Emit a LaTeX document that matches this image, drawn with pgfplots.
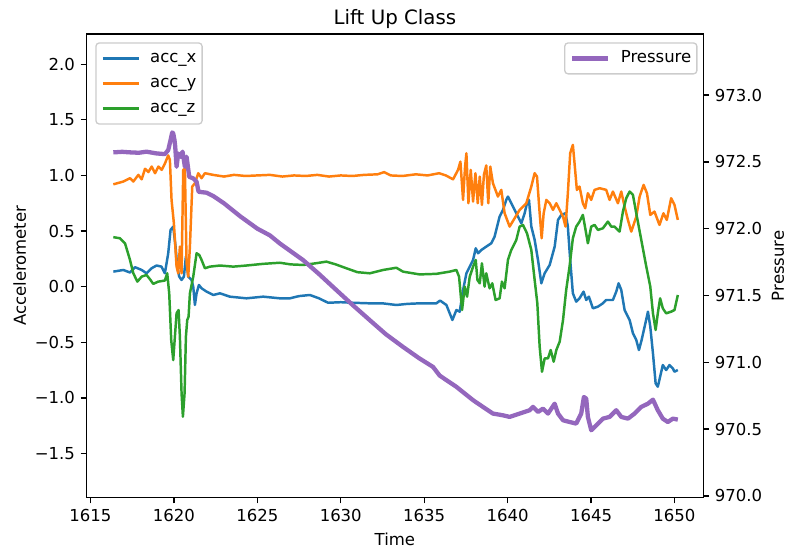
\documentclass[border=0pt]{standalone}
\usepackage{fontspec}
\setmainfont{DejaVu Sans}
\usepackage{pgfplots}
\pgfplotsset{compat=1.18}
\definecolor{C0}{HTML}{1F77B4}
\definecolor{C1}{HTML}{FF7F0E}
\definecolor{C2}{HTML}{2CA02C}
\definecolor{C4}{HTML}{9467BD}
\definecolor{lgray}{HTML}{CCCCCC}
\pgfplotsset{
  common/.style={
    scale only axis, width=373.9pt, height=281.0pt,
    xmin=1614.76, xmax=1651.73,
    tick align=outside, major tick length=3.5pt,
    every tick/.style={black, line width=0.8pt},
    axis line style={line width=0.8pt},
    tick label style={font=\fontsize{10}{12}\selectfont},
    legend image code/.code={\draw[##1] (0pt,0pt) -- (21.8pt,0pt);},
    legend style={font=\fontsize{10}{12}\selectfont, draw=lgray, line width=0.8pt,
      fill=white, fill opacity=0.8, text opacity=1, rounded corners=2pt,
      inner xsep=3.4pt, inner ysep=3.7pt, row sep=3.9pt, column sep=6.2pt,
      nodes={inner xsep=0pt, inner ysep=1pt, text height=7.3pt, text depth=2pt}},
    legend cell align=left,
  }
}
\begin{document}
\begin{tikzpicture}
\begin{axis}[common,
  ymin=-1.897, ymax=2.272,
  xtick={1615,1620,1625,1630,1635,1640,1645,1650},
  xticklabels={1615,1620,1625,1630,1635,1640,1645,1650},
  ytick={-1.5,-1,-0.5,0,0.5,1,1.5,2},
  yticklabels={−1.5,−1.0,−0.5,0.0,0.5,1.0,1.5,2.0},
  xtick pos=bottom, ytick pos=left,
  xlabel={Time}, ylabel={Accelerometer},
  xlabel style={at={(axis description cs:0.5,-0.1043)}, anchor=base, font=\fontsize{10}{12}\selectfont},
  ylabel style={at={(axis description cs:-0.0982,0.5)}, anchor=base, font=\fontsize{10}{12}\selectfont},
  title={Lift Up Class},
  every axis title shift=0pt,
  title style={at={(axis description cs:0.5,1.020)}, anchor=base, font=\fontsize{12}{14}\selectfont},
  legend style={at={(0.0143,0.982)}, anchor=north west},
]
\addplot[C0, line width=1.5pt, line join=round] coordinates {
(1616.37,0.135) (1616.97,0.15) (1617.37,0.127) (1617.67,0.175) (1618.07,0.15) (1618.36,0.12)
(1618.66,0.165) (1618.96,0.19) (1619.26,0.18) (1619.46,0.12) (1619.66,0.30) (1619.80,0.51)
(1619.96,0.54) (1620.10,0.36) (1620.20,0.18) (1620.32,0.09) (1620.46,0.06) (1620.60,0.09)
(1620.72,0.27) (1620.86,0.09) (1621.06,0.06) (1621.16,0.0) (1621.26,-0.165) (1621.36,-0.06)
(1621.50,0.015) (1621.66,-0.015) (1621.96,-0.045) (1622.36,-0.075) (1622.76,-0.06) (1623.35,-0.09)
(1624.35,-0.105) (1625.35,-0.09) (1626.35,-0.105) (1626.95,-0.105) (1627.5,-0.085) (1628.15,-0.075)
(1628.7,-0.105) (1629.24,-0.145) (1630.0,-0.14) (1630.74,-0.145) (1631.74,-0.15) (1632.5,-0.15)
(1633.33,-0.165) (1634.0,-0.155) (1634.73,-0.15) (1635.73,-0.15) (1635.95,-0.125) (1636.33,-0.165)
(1636.69,-0.30) (1636.93,-0.21) (1637.13,-0.225) (1637.33,-0.03) (1637.53,0.12) (1637.73,0.18)
(1637.93,0.24) (1638.09,0.345) (1638.23,0.30) (1638.43,0.33) (1638.72,0.36) (1639.02,0.39)
(1639.22,0.45) (1639.52,0.63) (1639.72,0.69) (1639.92,0.78) (1640.02,0.81) (1640.22,0.75)
(1640.52,0.66) (1640.82,0.57) (1641.02,0.66) (1641.16,0.75) (1641.28,0.78) (1641.42,0.54)
(1641.62,0.42) (1641.82,0.24) (1642.02,0.03) (1642.22,0.12) (1642.52,0.195) (1642.82,0.36)
(1643.02,0.60) (1643.22,0.645) (1643.47,0.66) (1643.61,0.54) (1643.75,0.24) (1643.91,-0.06)
(1644.11,-0.135) (1644.31,-0.105) (1644.55,-0.045) (1644.71,-0.12) (1644.87,-0.09) (1645.11,-0.195)
(1645.41,-0.18) (1645.71,-0.15) (1645.91,-0.12) (1646.31,-0.12) (1646.51,-0.045) (1646.65,0.03)
(1646.81,-0.03) (1647.01,-0.21) (1647.31,-0.30) (1647.51,-0.42) (1647.71,-0.48) (1647.87,-0.57)
(1648.03,-0.48) (1648.21,-0.36) (1648.41,-0.225) (1648.55,-0.36) (1648.71,-0.60) (1648.87,-0.87)
(1649.00,-0.90) (1649.14,-0.81) (1649.30,-0.705) (1649.50,-0.75) (1649.70,-0.705) (1649.90,-0.735)
(1650.00,-0.765) (1650.20,-0.75)
};
\addlegendentry{acc\_x}
\addplot[C1, line width=1.5pt, line join=round] coordinates {
(1616.37,0.92) (1616.97,0.945) (1617.37,0.975) (1617.57,0.945) (1617.87,1.005) (1618.07,0.965)
(1618.27,1.06) (1618.47,1.03) (1618.67,1.08) (1618.87,1.02) (1619.07,1.08) (1619.27,1.05)
(1619.47,1.11) (1619.66,1.18) (1619.76,1.14) (1619.86,0.78) (1620.00,0.57) (1620.16,0.18)
(1620.26,0.12) (1620.36,0.36) (1620.46,0.12) (1620.56,1.05) (1620.66,1.06) (1620.76,0.21)
(1620.86,0.09) (1620.96,0.36) (1621.10,0.90) (1621.26,0.93) (1621.46,1.02) (1621.66,0.975)
(1621.86,1.02) (1622.35,1.005) (1623.0,0.99) (1623.6,1.005) (1624.3,0.995) (1625.0,1.0)
(1625.75,1.005) (1626.5,0.99) (1627.2,1.0) (1627.9,0.995) (1628.6,1.005) (1629.3,0.99)
(1630.0,1.0) (1630.7,0.995) (1631.4,1.005) (1632.2,1.01) (1632.6,1.03) (1633.0,1.0)
(1633.7,0.995) (1634.5,1.01) (1635.2,1.0) (1635.9,1.02) (1636.3,1.0) (1636.73,0.965)
(1637.03,1.05) (1637.17,1.124) (1637.33,0.78) (1637.45,1.08) (1637.53,1.2) (1637.65,0.75)
(1637.79,1.05) (1637.93,0.765) (1638.07,1.02) (1638.21,0.75) (1638.33,0.99) (1638.46,0.735)
(1638.58,1.005) (1638.72,1.09) (1638.84,0.75) (1638.96,1.08) (1639.12,0.93) (1639.42,0.81)
(1639.62,0.87) (1639.82,0.66) (1640.12,0.54) (1640.36,0.60) (1640.72,0.69) (1641.12,0.75)
(1641.42,0.90) (1641.62,1.02) (1641.76,0.99) (1641.92,0.66) (1642.04,0.435) (1642.16,0.66)
(1642.32,0.78) (1642.52,0.75) (1642.72,0.69) (1642.92,0.75) (1643.12,0.69) (1643.32,0.63)
(1643.47,0.54) (1643.61,0.84) (1643.75,1.20) (1643.91,1.275) (1644.01,1.11) (1644.15,0.87)
(1644.31,0.90) (1644.51,0.75) (1644.65,0.705) (1644.81,0.84) (1645.01,0.78) (1645.21,0.87)
(1645.51,0.885) (1645.91,0.87) (1646.11,0.78) (1646.31,0.855) (1646.61,0.75) (1646.81,0.855)
(1647.01,0.72) (1647.21,0.60) (1647.41,0.495) (1647.71,0.63) (1647.91,0.81) (1648.15,0.915)
(1648.35,0.84) (1648.55,0.645) (1648.80,0.675) (1649.10,0.555) (1649.34,0.66) (1649.54,0.60)
(1649.80,0.795) (1650.00,0.735) (1650.20,0.60)
};
\addlegendentry{acc\_y}
\addplot[C2, line width=1.5pt, line join=round] coordinates {
(1616.37,0.445) (1616.77,0.435) (1617.07,0.39) (1617.37,0.24) (1617.57,0.12) (1617.81,0.045)
(1618.07,0.09) (1618.36,0.105) (1618.60,0.06) (1618.76,0.025) (1619.06,0.045) (1619.46,0.055)
(1619.60,0.12) (1619.72,-0.06) (1619.84,-0.48) (1619.96,-0.66) (1620.06,-0.45) (1620.16,-0.24)
(1620.28,-0.21) (1620.36,-0.45) (1620.46,-0.96) (1620.54,-1.17) (1620.64,-0.96) (1620.72,-0.45)
(1620.80,-0.30) (1620.88,-0.27) (1620.96,-0.06) (1621.16,0.09) (1621.36,0.30) (1621.52,0.285)
(1621.66,0.24) (1621.86,0.165) (1622.16,0.18) (1622.76,0.19) (1623.56,0.18) (1624.35,0.19)
(1625.35,0.205) (1626.35,0.215) (1627.0,0.2) (1627.75,0.195) (1628.5,0.21) (1629.14,0.225)
(1629.7,0.2) (1630.34,0.165) (1631.0,0.13) (1631.74,0.12) (1632.54,0.15) (1633.33,0.17)
(1633.73,0.135) (1634.73,0.11) (1635.73,0.115) (1636.53,0.135) (1636.93,0.15) (1637.09,0.09)
(1637.27,-0.21) (1637.43,0.0) (1637.57,-0.09) (1637.73,0.09) (1637.93,0.18) (1638.09,0.24)
(1638.19,0.06) (1638.33,0.03) (1638.46,0.21) (1638.62,0.0) (1638.72,0.12) (1638.92,-0.015)
(1639.08,0.03) (1639.28,-0.12) (1639.52,-0.105) (1639.66,0.045) (1639.82,-0.015) (1640.02,0.24)
(1640.22,0.33) (1640.52,0.42) (1640.72,0.54) (1640.92,0.555) (1641.16,0.48) (1641.42,0.33)
(1641.62,0.06) (1641.78,-0.15) (1641.92,-0.54) (1642.06,-0.765) (1642.22,-0.645) (1642.42,-0.645)
(1642.58,-0.57) (1642.76,-0.675) (1642.92,-0.57) (1643.12,-0.495) (1643.32,-0.30) (1643.51,-0.03)
(1643.71,0.18) (1643.91,0.435) (1644.11,0.54) (1644.31,0.585) (1644.51,0.645) (1644.67,0.51)
(1644.81,0.39) (1645.01,0.54) (1645.21,0.555) (1645.41,0.51) (1645.71,0.525) (1646.01,0.585)
(1646.21,0.54) (1646.41,0.54) (1646.71,0.495) (1646.91,0.675) (1647.11,0.795) (1647.31,0.855)
(1647.51,0.825) (1647.71,0.66) (1648.01,0.42) (1648.31,0.18) (1648.55,0.0) (1648.71,-0.24)
(1648.87,-0.39) (1649.00,-0.24) (1649.14,-0.105) (1649.30,-0.195) (1649.50,-0.24) (1649.80,-0.225)
(1650.00,-0.21) (1650.20,-0.075)
};
\addlegendentry{acc\_z}
\end{axis}
\begin{axis}[common,
  ymin=969.987, ymax=973.457,
  axis y line*=right, axis x line=none,
  ytick={970,970.5,971,971.5,972,972.5,973},
  yticklabels={970.0,970.5,971.0,971.5,972.0,972.5,973.0},
  ylabel={Pressure},
  ylabel style={at={(axis description cs:1.1305,0.5)}, anchor=base, font=\fontsize{10}{12}\selectfont},
  legend style={at={(0.9906,0.982)}, anchor=north east},
]
\addplot[C4, line width=2.6pt, line join=round] coordinates {
(1616.37,972.571) (1616.9,972.575) (1617.37,972.571) (1617.9,972.568) (1618.36,972.576) (1618.96,972.563)
(1619.46,972.558) (1619.66,972.588) (1619.80,972.663) (1619.90,972.72) (1619.96,972.713) (1620.04,972.66)
(1620.08,972.613) (1620.16,972.463) (1620.26,972.563) (1620.40,972.538) (1620.52,972.576) (1620.66,972.463)
(1620.76,972.538) (1620.92,972.388) (1621.16,972.376) (1621.36,972.351) (1621.48,972.276) (1621.96,972.269)
(1622.36,972.244) (1623.0,972.19) (1624.0,972.09) (1625.0,972.0) (1625.75,971.95) (1626.35,971.889)
(1627.75,971.764) (1628.7,971.66) (1629.74,971.54) (1630.7,971.43) (1631.74,971.315) (1632.7,971.21)
(1633.73,971.115) (1634.7,971.03) (1635.53,970.965) (1635.93,970.90) (1636.93,970.816) (1637.93,970.716)
(1638.52,970.666) (1639.12,970.616) (1639.72,970.603) (1640.12,970.591) (1640.72,970.616) (1641.32,970.641)
(1641.52,970.666) (1641.82,970.628) (1642.12,970.653) (1642.42,970.616) (1642.82,970.69) (1643.02,970.616)
(1643.32,970.566) (1643.71,970.553) (1644.11,970.541) (1644.41,970.616) (1644.57,970.74) (1644.71,970.728)
(1644.81,970.591) (1645.01,970.491) (1645.31,970.528) (1645.71,970.578) (1646.11,970.591) (1646.51,970.641)
(1646.81,970.591) (1647.21,970.578) (1647.61,970.616) (1648.01,970.666) (1648.41,970.69) (1648.71,970.72)
(1649.00,970.641) (1649.30,970.578) (1649.60,970.553) (1649.90,970.578) (1650.20,970.571)
};
\addlegendentry{Pressure}
\end{axis}
\pgfresetboundingbox
\path[use as bounding box] (-52.4pt,-32.9pt) rectangle (424.6pt,301.6pt);
\end{tikzpicture}
\end{document}
